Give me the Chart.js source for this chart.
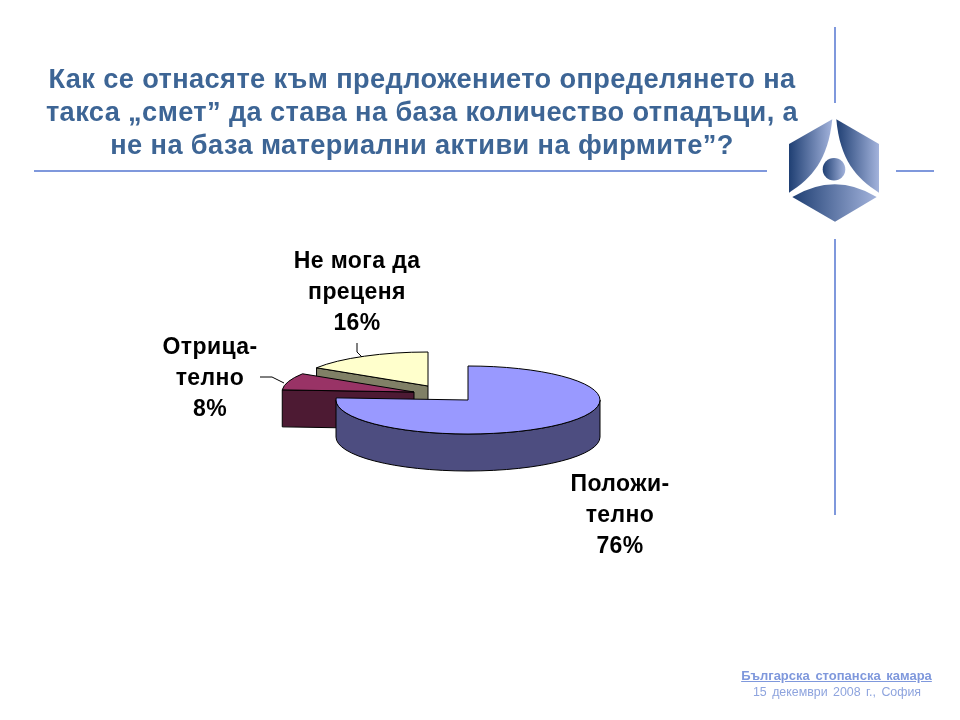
<!DOCTYPE html>
<html>
<head>
<meta charset="utf-8">
<script src="https://cdn.jsdelivr.net/npm/chart.js@4/dist/chart.umd.min.js"></script>
<style>
  html, body { margin: 0; background: #fff; }
  #page { position: relative; width: 960px; height: 720px; overflow: hidden; font-family: "Liberation Sans", Arial, sans-serif; }
  #pie { position: absolute; left: 0; top: 0; }
  .rule { position: absolute; background: #7f98dc; }
  #title { position: absolute; left: 22px; top: 61.5px; width: 800px; text-align: center; color: #3d6595; font-weight: bold; font-size: 27.2px; letter-spacing: 0.4px; line-height: 33px; white-space: nowrap; }
  #org { position: absolute; left: 700px; width: 273px; top: 668px; text-align: center; color: #7f98dc; font-weight: bold; font-size: 13px; text-decoration: underline; word-spacing: 2px; }
  #date { position: absolute; left: 700px; width: 274px; top: 685px; text-align: center; color: #8ea4de; font-size: 12.4px; word-spacing: 2px; }
  #logo { position: absolute; left: 0; top: 0; }
</style>
</head>
<body>
<div id="page">
  <canvas id="pie" width="960" height="720"></canvas>
  <div class="rule" style="left:834px;top:27px;width:2px;height:76px"></div>
  <div class="rule" style="left:834px;top:239px;width:2px;height:276px"></div>
  <div class="rule" style="left:34px;top:170px;width:733px;height:2px"></div>
  <div class="rule" style="left:896px;top:170px;width:38px;height:2px"></div>
  <div id="title">Как се отнасяте към предложението определянето на<br>такса „смет” да става на база количество отпадъци, а<br>не на база материални активи на фирмите”?</div>
  <svg id="logo" width="960" height="720">
    <defs>
      <linearGradient id="g"><stop offset="0" stop-color="#1f3f73"/><stop offset="1" stop-color="#a3b3dc"/></linearGradient>
    </defs>
    <path fill="url(#g)" d="M832.3 119.3 L789 144 L789 192.7 C812 178 828 160 832.3 119.3 Z"/>
    <path fill="url(#g)" d="M836.3 119.3 L879 144 L879 192.7 C856 178 840 160 836.3 119.3 Z"/>
    <path fill="url(#g)" d="M792.3 197 Q835 171.6 876.7 197 L835 221.7 Z"/>
    <circle fill="url(#g)" cx="834" cy="169.3" r="11.3"/>
  </svg>
  <div id="org">Българска стопанска камара</div>
  <div id="date">15 декември 2008 г., София</div>
</div>
<script>
const categories = ['Положи-\nтелно', 'Отрица-\nтелно', 'Не мога да\nпреценя'];
const values = [76, 8, 16];
const topColors = ['#9999ff', '#993366', '#ffffcc'];
const sideColors = ['#4d4d80', '#4d1a33', '#808066'];

// look of the 3d pie
const squash = 34 / 132;
const depth = 37;
const shifts = [[0, 0], [-54, -8], [-40, -14]];
const drawOrder = [2, 1, 0];
const labelSpots = [[620, 485], [210, 348], [357, 262]];
const leaders = [
  [],
  [[260, 377], [272, 377], [284, 383]],
  [[357, 343], [357, 352], [362, 357]]
];

const pie3d = {
  id: 'pie3d',
  afterDatasetsUpdate(chart) {
    chart.getDatasetMeta(0).data.forEach((arc, i) => {
      arc.x += shifts[i][0];
      arc.y += shifts[i][1];
    });
  },
  beforeDatasetDraw(chart, args) {
    const ctx = chart.ctx;
    ctx.lineWidth = 1;
    ctx.strokeStyle = '#000';
    ctx.lineJoin = 'round';
    drawOrder.forEach(i => {
      const arc = args.meta.data[i];
      const rx = arc.outerRadius;
      const ry = rx * squash;
      const rim = a => [arc.x + rx * Math.cos(a), arc.y + ry * Math.sin(a)];
      ctx.fillStyle = sideColors[i];

      // cut faces turned towards the viewer
      [[arc.startAngle, -1], [arc.endAngle, 1]].forEach(([a, sign]) => {
        if (sign * Math.cos(a) > 1e-6) {
          const [px, py] = rim(a);
          ctx.beginPath();
          ctx.moveTo(arc.x, arc.y);
          ctx.lineTo(px, py);
          ctx.lineTo(px, py + depth);
          ctx.lineTo(arc.x, arc.y + depth);
          ctx.closePath();
          ctx.fill();
          ctx.stroke();
        }
      });

      // outer wall, only the front half of the rim
      const from = Math.max(arc.startAngle, 0);
      const to = Math.min(arc.endAngle, Math.PI);
      if (to > from) {
        ctx.beginPath();
        ctx.ellipse(arc.x, arc.y, rx, ry, 0, from, to);
        ctx.ellipse(arc.x, arc.y + depth, rx, ry, 0, to, from, true);
        ctx.closePath();
        ctx.fill();
        ctx.stroke();
      }

      // top of the slice is the library's arc, flattened
      ctx.save();
      ctx.translate(arc.x, arc.y);
      ctx.scale(1, squash);
      ctx.translate(-arc.x, -arc.y);
      arc.draw(ctx, chart.chartArea);
      ctx.restore();

      ctx.beginPath();
      ctx.moveTo(arc.x, arc.y);
      ctx.ellipse(arc.x, arc.y, rx, ry, 0, arc.startAngle, arc.endAngle);
      ctx.closePath();
      ctx.stroke();
    });
    return false;
  },
  afterDraw(chart) {
    const ctx = chart.ctx;
    ctx.save();
    ctx.strokeStyle = '#000';
    ctx.lineWidth = 1;
    leaders.forEach(pts => {
      if (!pts.length) return;
      ctx.beginPath();
      pts.forEach(([x, y], n) => n ? ctx.lineTo(x, y) : ctx.moveTo(x, y));
      ctx.stroke();
    });
    ctx.fillStyle = '#000';
    ctx.font = 'bold 23px "Liberation Sans", Arial, sans-serif';
    ctx.letterSpacing = '0.4px';
    ctx.textAlign = 'center';
    ctx.textBaseline = 'middle';
    categories.forEach((name, i) => {
      const lines = name.split('\n').concat(values[i] + '%');
      lines.forEach((line, n) => ctx.fillText(line, labelSpots[i][0], labelSpots[i][1] + n * 31));
    });
    ctx.restore();
  }
};

new Chart(document.getElementById('pie'), {
  type: 'pie',
  data: {
    labels: categories,
    datasets: [{
      data: values,
      backgroundColor: topColors,
      borderWidth: 0
    }]
  },
  options: {
    responsive: false,
    animation: false,
    events: [],
    layout: { padding: { left: 336, right: 360, top: 268, bottom: 188 } },
    plugins: {
      legend: { display: false },
      tooltip: { enabled: false }
    }
  },
  plugins: [pie3d]
});
</script>
</body>
</html>
